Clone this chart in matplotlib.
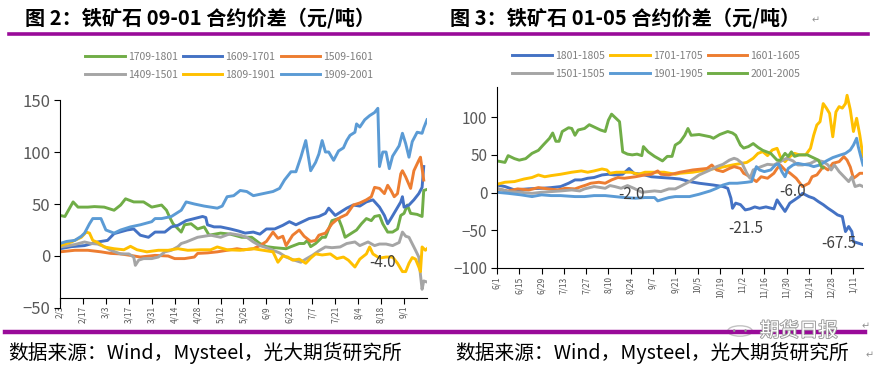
import numpy as np
import matplotlib
matplotlib.use("Agg")
import matplotlib.pyplot as plt
import matplotlib.patheffects as pe
from matplotlib.lines import Line2D
from matplotlib.patches import Circle

plt.rcParams['font.family'] = ['Noto Sans CJK SC', 'DejaVu Sans']

# ---- figure 2 : 09-01 spreads (days since 2/3) ----
l_ticklabels = ['2/3', '2/17', '3/3', '3/17', '3/31', '4/14', '4/28', '5/12', '5/26',
                '6/9', '6/23', '7/7', '7/21', '8/4', '8/18', '9/1']

l_green_t = [0, 3, 8, 11, 17, 21, 27, 33, 37, 40, 45, 51, 56, 62, 65, 67, 69, 74, 76, 80,
             84, 88, 91, 98, 104, 111, 117, 122, 126, 131, 138, 141, 146, 149, 151, 153, 156, 160, 162, 166,
             170, 172, 174, 177, 181, 184, 187, 190, 192, 195, 197, 200, 203, 206, 208, 210, 212, 214, 218, 221,
             222, 224]
l_green_v = [39, 38, 52, 47, 47, 47.5, 47, 44, 49, 55, 52, 52, 47, 49, 44, 37, 31, 23, 30, 31,
             26, 28, 20, 22, 21, 18, 18, 12, 9, 8, 7, 9, 12, 12, 15, 9, 12, 18, 18, 34,
             36, 28, 18, 21, 25, 31, 36, 34, 38, 39, 31, 23, 23, 26, 39, 41, 49, 41, 40, 38,
             63, 64]

l_blue_t = [0, 7, 15, 23, 29, 33, 41, 45, 49, 54, 58, 64, 68, 72, 77, 82, 87, 89, 90, 94,
            98, 104, 109, 113, 118, 122, 126, 131, 136, 140, 144, 148, 152, 155, 158, 162, 164, 168, 171, 175,
            179, 183, 187, 191, 195, 198, 200, 202, 205, 208, 209, 210, 213, 216, 219, 221, 222]
l_blue_v = [7, 9, 10, 13.5, 15, 21.5, 25, 26, 20, 18, 23, 23, 28, 29.5, 34, 36, 38, 37, 30, 28,
            28, 26, 24, 22, 23, 21, 26, 26, 29.5, 33, 30, 33, 36, 37, 38, 41, 46, 39, 42, 46,
            49, 48, 52, 54, 47, 39, 31, 36, 44, 52, 57, 47, 49, 54, 60, 66, 86]

l_orange_t = [0, 9, 17, 25, 31, 37, 43, 49, 58, 66, 70, 76, 82, 84, 90, 96, 102, 108, 112, 118,
              122, 126, 130, 133, 136, 138, 142, 146, 149, 153, 156, 158, 162, 166, 169, 171, 175, 179, 183, 187,
              190, 192, 195, 198, 200, 202, 204, 206, 208, 209, 211, 214, 216, 219, 220, 222]
l_orange_v = [4, 5.5, 5.5, 4, 2.5, 2, 0.6, -1, 0.6, 0, -2.5, -2.5, -1, 2.5, 3, 4, 5.5, 7, 6, 7,
              10, 14, 23, 17, 19, 10, 20, 25, 19, 14, 15, 20, 22, 31, 35, 37, 40, 49, 51, 54,
              57, 66, 65, 60, 68, 63, 57, 60, 79, 82, 76, 65, 82, 92, 95, 73]

l_gray_t = [0, 9, 15, 19, 23, 27, 31, 37, 42, 45, 46, 48, 51, 56, 60, 64, 68, 72, 74, 77,
            84, 92, 98, 104, 110, 114, 118, 122, 126, 130, 134, 138, 143, 147, 150, 154, 158, 162, 166, 171,
            175, 180, 183, 188, 192, 195, 199, 203, 207, 209, 211, 213, 217, 219, 220, 221, 222, 224]
l_gray_v = [8.7, 11, 13.5, 12, 11.5, 9, 5.5, 2, 2, -1, -9, -4, -2.5, -2.5, -1, 4, 5.5, 9, 12, 13.5,
            18, 20, 18, 21.5, 20, 18, 13.5, 10, 8, 5.5, 3, -1, -4, -6, -3, 0.6, 5, 8.7, 8, 8.7,
            12, 13.5, 10, 13.5, 10, 11.5, 11.5, 10, 13, 23, 19, 18, 5.5, -1, -18, -32, -24, -25]

l_yellow_t = [0, 7, 13, 16, 18, 20, 23, 27, 33, 39, 43, 47, 53, 60, 66, 72, 78, 86, 92, 96,
              102, 110, 118, 126, 130, 133, 136, 139, 142, 146, 150, 153, 156, 160, 165, 169, 173, 176, 180, 183,
              187, 189, 191, 195, 199, 203, 206, 209, 211, 213, 215, 217, 219, 220, 221, 223, 224]
l_yellow_v = [10, 13.5, 18, 23, 22, 15, 13, 8.7, 7, 6, 9.3, 6, 4, 5.5, 5.5, 7, 5.5, 6, 6, 8.7,
              6, 5.5, 7, 5, 4, -6, 0, -1, -4, -3, -7, -2, 2, 1, 2, -2.5, -1, -4, -10.6, -3,
              2, 8.7, 2, -2, -1, -1, -7, -15, -15, -7, -1.5, -3, -10.6, -15, 8.7, 5.5, 7]

l_lblue_t = [0, 4, 9, 13, 15, 18, 20, 25, 28, 33, 37, 43, 49, 56, 58, 62, 68, 74, 77, 82,
             88, 96, 99, 102, 106, 110, 114, 118, 124, 130, 134, 137, 141, 144, 147, 150, 153, 156, 158, 160,
             162, 164, 167, 170, 173, 175, 177, 180, 181, 183, 186, 189, 192, 194, 195, 197, 199, 201, 203, 207,
             209, 211, 213, 215, 218, 221, 222, 224]
l_lblue_v = [12, 14, 15, 19, 22, 31, 36, 36, 25, 22, 25, 28, 30, 33, 36, 36, 38, 44, 52, 50,
             48, 46, 48, 57, 58, 63, 62, 58, 60, 62, 65, 73, 81, 81, 95, 111, 82, 90, 98, 111,
             100, 100, 92, 101, 104, 111, 116, 119, 127, 124, 131, 135, 138, 142, 86, 100, 100, 84, 96, 106,
             118, 108, 95, 110, 119, 118, 123, 131]

# ---- figure 3 : 01-05 spreads (days since 6/1) ----
r_ticklabels = ['6/1', '6/15', '6/29', '7/13', '7/27', '8/10', '8/24', '9/7', '9/21',
                '10/5', '10/19', '11/2', '11/16', '11/30', '12/14', '12/28', '1/11']

r_blue_t = [0, 5, 11, 20, 28, 34, 40, 45, 49, 53, 57, 61, 66, 70, 74, 79, 83, 86, 91, 97,
            103, 110, 115, 121, 127, 136, 142, 145, 147, 148, 150, 153, 156, 159, 162, 165, 169, 174, 176, 178,
            181, 184, 187, 190, 192, 196, 199, 202, 205, 208, 211, 214, 217, 218, 219, 221, 223, 224, 227, 230]
r_blue_v = [10, 8, 3.5, 5, 5.7, 6.6, 8, 12.4, 16.8, 16.8, 19, 20, 23.4, 24.3, 23.4, 24.3, 32, 25.6, 24.3, 21,
            20, 19, 18, 14.6, 12.4, 10, 8, 5.7, -7.5, -20.8, -14, -16, -23, -21.6, -19, -20.8, -19, -21.6, -9.7, -16,
            -25, -14, -9.7, -5.3, -1, -5.3, -7.5, -12, -16, -20.8, -25, -29.6, -31.8, -42, -51.7, -45, -51.7, -65, -67, -69]

r_yellow_t = [0, 5, 11, 17, 22, 26, 30, 34, 40, 47, 53, 57, 61, 66, 69, 71, 75, 79, 84, 89,
              93, 99, 105, 112, 115, 123, 132, 140, 148, 157, 161, 164, 167, 170, 173, 176, 178, 181, 184, 187,
              190, 194, 197, 199, 201, 203, 205, 207, 209, 211, 213, 215, 217, 219, 220, 222, 224, 226, 228, 230]
r_yellow_v = [11, 13.7, 14.6, 18, 20, 23.4, 21, 22.5, 24.3, 27, 28.7, 27, 28.7, 31.3, 30, 25.6, 27, 27, 27, 24.3,
              27, 27, 27, 24.3, 25.6, 27, 30, 33, 36.6, 40, 45.5, 52, 54.3, 49, 56.5, 58.7, 47.7, 41, 47.7, 52,
              50, 50, 58.7, 76, 89.6, 94, 118, 112, 105, 74, 107, 114, 112, 118, 129, 110, 81, 98.5, 76, 47.7]

r_orange_t = [0, 7, 13, 20, 26, 32, 38, 43, 49, 53, 56, 59, 64, 68, 72, 76, 80, 87, 93, 97,
              101, 103, 108, 115, 123, 132, 135, 138, 142, 146, 149, 153, 155, 157, 160, 163, 166, 170, 174, 176,
              178, 181, 184, 188, 192, 196, 198, 201, 205, 208, 211, 215, 218, 220, 222, 224, 226, 228, 230]
r_orange_v = [4.9, 2, 4.9, 3.5, 6.6, 4.9, 3.5, 5.7, 4.9, 8, 10, 12.4, 13.7, 12.4, 16.8, 20, 19, 21, 23.4, 24.3,
              28.7, 24.3, 23.4, 27, 30, 32, 36.6, 30, 27.8, 32, 34.4, 32, 25.6, 23.4, 19, 14.6, 21, 19, 25.6, 32,
              36.6, 30, 26, 19, 8, 12.4, 21, 23.4, 34.4, 30, 38.8, 41, 47.7, 43, 34, 19, 22, 25.6, 25.6]

r_gray_t = [0, 7, 15, 22, 28, 34, 40, 47, 52, 55, 61, 68, 71, 74, 78, 82, 86, 91, 95, 99,
            103, 108, 112, 115, 121, 127, 134, 138, 142, 146, 149, 151, 154, 157, 159, 161, 166, 170, 174, 178,
            182, 186, 189, 192, 197, 201, 205, 208, 210, 212, 215, 219, 221, 223, 225, 228, 230]
r_gray_v = [5.7, 1.3, 0.4, -1, 0.4, 1.3, 2.2, 3.5, 2.2, 4.9, 8, 5.7, 9.3, 8, 5.7, 9.3, 5.7, 0.4, 1.3, 2.2,
            1.3, 4.9, 4.9, 8, 14.6, 23.4, 30, 34.4, 37.5, 43, 45.5, 44, 38.8, 25.6, 19, 30, 34.4, 37.5, 36.6, 41,
            45.5, 42, 36.6, 36.6, 38.8, 43, 41, 36.6, 30, 36.6, 27.8, 19, 14.6, 21, 8, 10, 8]

r_lblue_t = [0, 7, 15, 22, 28, 34, 40, 49, 55, 61, 68, 74, 80, 87, 93, 99, 101, 103, 108, 112,
             115, 121, 127, 134, 138, 142, 146, 151, 157, 160, 162, 163, 165, 168, 172, 175, 177, 179, 181, 183,
             186, 189, 192, 196, 199, 203, 207, 211, 216, 219, 222, 224, 226, 227, 230]
r_lblue_v = [0.4, -1, -3, -5.3, -3, -4, -4, -5.3, -5.3, -4, -4, -5.3, -6.6, -7.5, -6.6, -6.6, -11, -9.7, -6.6, -5.3,
             -5.3, -5.3, -2.2, 2.2, 5.7, 10, 12.4, 12.4, 13.7, 14.6, 27.8, 34.4, 30, 27.8, 30, 36.6, 38, 27.8, 21, 32,
             36.6, 38.8, 37.5, 36.6, 34.4, 36.6, 42, 46.4, 50, 52, 56.5, 63, 72, 61, 36.6]

r_green_t = [0, 5, 7, 11, 14, 18, 22, 26, 29, 33, 35, 37, 39, 41, 45, 47, 49, 51, 55, 58,
             61, 65, 68, 70, 72, 75, 77, 79, 82, 85, 88, 91, 92, 95, 99, 104, 107, 110, 112, 115,
             118, 120, 122, 127, 134, 136, 140, 145, 148, 150, 153, 155, 158, 161, 164, 167, 172, 176, 178, 181,
             183, 185, 187, 190, 195, 198, 202, 204, 205]
r_green_v = [42, 40, 49, 45, 43, 45, 52, 56, 63, 72, 79, 68, 68, 81, 86, 85, 76, 83, 85, 90,
             87, 83, 81, 96, 104, 98, 94, 54, 51, 50, 51, 49, 61, 54, 48, 42, 48, 48, 63, 67,
             76, 85, 76, 77, 74, 72, 77, 81, 79, 76, 63, 59, 61, 65, 60, 56, 52, 43, 43, 52,
             48, 54, 48, 50, 50, 47, 43, 34, 33]

GREEN, BLUE, ORANGE = '#70AD47', '#4472C4', '#ED7D31'
GRAY, YELLOW, LBLUE = '#A5A5A5', '#FFC000', '#5B9BD5'
PURPLE = '#990B99'
TXT = '#595959'

left_series = [('1709-1801', l_green_t, l_green_v, GREEN),
               ('1609-1701', l_blue_t, l_blue_v, BLUE),
               ('1509-1601', l_orange_t, l_orange_v, ORANGE),
               ('1409-1501', l_gray_t, l_gray_v, GRAY),
               ('1809-1901', l_yellow_t, l_yellow_v, YELLOW),
               ('1909-2001', l_lblue_t, l_lblue_v, LBLUE)]
right_series = [('1801-1805', r_blue_t, r_blue_v, BLUE),
                ('1701-1705', r_yellow_t, r_yellow_v, YELLOW),
                ('1601-1605', r_orange_t, r_orange_v, ORANGE),
                ('1501-1505', r_gray_t, r_gray_v, GRAY),
                ('1901-1905', r_lblue_t, r_lblue_v, LBLUE),
                ('2001-2005', r_green_t, r_green_v, GREEN)]


def style_axis(ax, ticklabels, ysize):
    for s in ['top', 'right']:
        ax.spines[s].set_visible(False)
    ax.spines['left'].set_color('black')
    ax.spines['bottom'].set_color('black')
    ax.set_xticks(np.arange(len(ticklabels)) * 14)
    ax.set_xticklabels(ticklabels, rotation=90, fontsize=6, color=TXT)
    ax.tick_params(axis='x', length=4, width=0.8, pad=2)
    ax.tick_params(axis='y', length=4, width=0.8, labelsize=ysize, labelcolor=TXT, pad=3)


def draw_legend(handles, labels, x, y):
    # matplotlib fills legend columns first, reorder so rows read left to right
    order = [0, 3, 1, 4, 2, 5]
    fig.legend([handles[i] for i in order], [labels[i] for i in order], ncol=3,
               loc='center', bbox_to_anchor=(x, y), frameon=False, fontsize=7.5,
               handlelength=3.8, handletextpad=0.3, columnspacing=0.5,
               labelspacing=0.8, labelcolor='#7f7f7f')


fig = plt.figure(figsize=(8.75, 3.72), dpi=100)

# left chart
ax1 = fig.add_axes([60 / 875, 1 - 308 / 372, 367 / 875, 208 / 372])
hl = []
for name, t, v, c in left_series:
    hl += ax1.plot(t, v, color=c, lw=2.1, label=name, solid_joinstyle='round')
ax1.set_xlim(0, 224)
ax1.set_ylim(-50, 150)
ax1.set_yticks([-50, 0, 50, 100, 150])
ax1.spines['bottom'].set_position(('data', -40))
style_axis(ax1, l_ticklabels, 12)
ax1.text(197, -6, '-4.0', fontsize=11, color='#404040', ha='center', va='center', zorder=5)
draw_legend(hl, [s[0] for s in left_series], 0.262, 0.823)

# right chart
ax2 = fig.add_axes([497 / 875, 1 - 268 / 372, 366 / 875, 181 / 372])
hr = []
for name, t, v, c in right_series:
    hr += ax2.plot(t, v, color=c, lw=2.1, label=name, solid_joinstyle='round')
ax2.set_xlim(0, 230)
ax2.set_ylim(-100, 140)
ax2.set_yticks([-100, -50, 0, 50, 100])
style_axis(ax2, r_ticklabels, 11)
for tx, ty, s in [(84.5, -3, '-2.0'), (186, 2, '-6.0'), (156.5, -47, '-21.5'), (215, -67, '-67.5')]:
    ax2.text(tx, ty, s, fontsize=11, color='#404040', ha='center', va='center', zorder=5)
draw_legend(hr, [s[0] for s in right_series], 0.75, 0.826)

# titles and rules
fig.text(25 / 875, 1 - 18 / 372, '图 2：铁矿石 09-01 合约价差（元/吨）', fontsize=14.5,
         fontweight='bold', va='center', ha='left')
fig.text(450 / 875, 1 - 18 / 372, '图 3：铁矿石 01-05 合约价差（元/吨）', fontsize=14.5,
         fontweight='bold', va='center', ha='left')
fig.text(812 / 875, 1 - 20 / 372, '↵', fontsize=7, color='#909090', va='center')
fig.add_artist(Line2D([9 / 875, 868 / 875], [1 - 33.5 / 372] * 2, color=PURPLE, lw=2.6))
fig.add_artist(Line2D([5 / 875, 865 / 875], [1 - 332 / 372] * 2, color=PURPLE, lw=3.2))

# watermark
fig.add_artist(Circle((740 / 875, 1 - 331 / 372), 0.014, transform=fig.transFigure,
                      fc='white', ec='#b8b8b8', lw=1.0, alpha=0.85))
fig.text(740 / 875, 1 - 331 / 372, '··', fontsize=9, color='#909090', ha='center', va='center')
fig.text(760 / 875, 1 - 331 / 372, '期货日报', fontsize=14, color='white', va='center', ha='left',
         path_effects=[pe.withStroke(linewidth=1.3, foreground='#9a9a9a')])
fig.text(862 / 875, 1 - 326 / 372, '↵', fontsize=7, color='#909090', va='center')

# source lines
src = '数据来源：Wind，Mysteel，光大期货研究所'
fig.text(8 / 875, 1 - 353 / 372, src, fontsize=14.2, va='center', ha='left')
fig.text(455 / 875, 1 - 353 / 372, src, fontsize=14.2, va='center', ha='left')
fig.text(866 / 875, 1 - 355 / 372, '↵', fontsize=7, color='#909090', va='center')

fig.savefig('out.png', dpi=100)
